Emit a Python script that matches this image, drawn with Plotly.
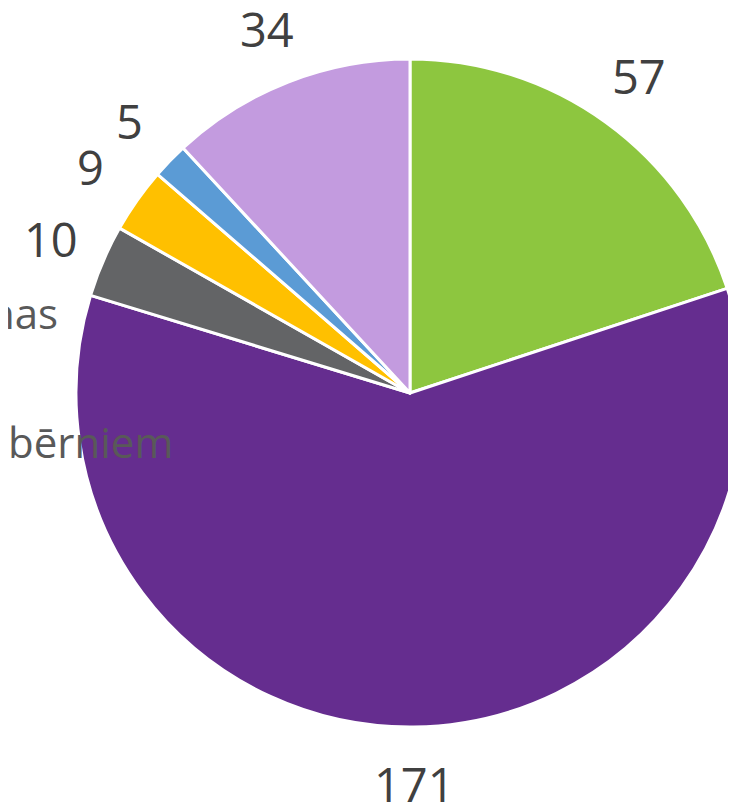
import math

import plotly.graph_objects as go

# ── Data ──────────────────────────────────────────────────────────────────────
labels = ["A", "B", "C", "D", "E", "F"]
values = [57, 171, 10, 9, 5, 34]
colors = ["#8DC63F", "#652D8F", "#636466", "#FFC000", "#5B9BD5", "#C39BDF"]
side_texts = ["nas", "bērniem"]

_W, _H = 736, 805
_PAGE = 8                 # default body margin of the html page
_X0, _X1 = 68, 736        # pie domain in figure px (left/right)
_Y0, _Y1 = 51, 719        # pie domain in figure px (top/bottom)
_LABEL_R = 1.17           # value labels sit this far out, relative to radius

fig = go.Figure(
    go.Pie(
        labels=labels,
        values=values,
        sort=False,
        direction="clockwise",
        rotation=0,
        marker=dict(colors=colors, line=dict(color="white", width=3)),
        textinfo="none",
        hoverinfo="label+value",
        showlegend=False,
        domain=dict(x=[_X0 / _W, _X1 / _W], y=[1 - _Y1 / _H, 1 - _Y0 / _H]),
    )
)

# value labels placed outside, at each slice's mid angle
cx, cy = (_X0 + _X1) / 2, (_Y0 + _Y1) / 2
r = min(_X1 - _X0, _Y1 - _Y0) / 2
total = sum(values)
cum = 0
for v in values:
    mid = (cum + v / 2) / total * 2 * math.pi
    cum += v
    px_ = cx + _LABEL_R * r * math.sin(mid)
    py_ = cy - _LABEL_R * r * math.cos(mid)
    fig.add_annotation(
        x=px_ / _W, y=1 - py_ / _H, xref="paper", yref="paper",
        text=str(v), showarrow=False,
        font=dict(size=47, color="#404040", family="Open Sans"),
        xanchor="center", yanchor="middle",
    )

# cut-off category text from the left edge of the original
fig.add_annotation(
    x=(60 - _PAGE) / _W, y=1 - (313 - _PAGE) / _H, xref="paper", yref="paper",
    text=side_texts[0], showarrow=False, xanchor="right", yanchor="middle",
    font=dict(size=42, color="#595959", family="Open Sans"),
)
fig.add_annotation(
    x=(175 - _PAGE) / _W, y=1 - (441 - _PAGE) / _H, xref="paper", yref="paper",
    text=side_texts[1], showarrow=False, xanchor="right", yanchor="middle",
    font=dict(size=42, color="#595959", family="Open Sans"),
)

fig.update_layout(
    width=_W,
    height=_H,
    margin=dict(l=0, r=0, t=0, b=0),
    paper_bgcolor="white",
    plot_bgcolor="white",
)

fig.write_html("out.html")
